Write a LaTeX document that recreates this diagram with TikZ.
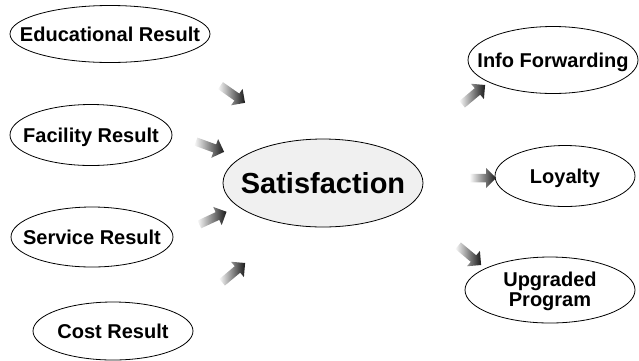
\documentclass[tikz,border=0pt]{standalone}
\usepackage{fontspec}
\setmainfont{Liberation Sans}
\usetikzlibrary{shapes.geometric,shapes.arrows}

% text that does not widen its ellipse
\newcommand{\ovaltext}[1]{\makebox[0pt]{\begin{tabular}{@{}c@{}}#1\end{tabular}}}

\begin{document}
\begin{tikzpicture}[x=1pt, y=-1pt,
  oval/.style={draw, ellipse, line width=0.8pt, inner sep=0pt,
               text height=14.4pt, text depth=0pt,
               font=\fontsize{20}{22}\selectfont\bfseries},
  hint/.style={single arrow, draw=none, inner sep=3.5pt, minimum width=20pt,
               minimum height=30pt, single arrow head extend=5pt,
               left color=gray!5, right color=black!90}]
  \useasboundingbox (0,0) rectangle (639,360);
  % factors
  \node[oval, minimum width=200pt, minimum height=57pt] (edu) at (110,34) {\makebox[0pt]{Educational Result}};
  \node[oval, minimum width=162pt, minimum height=61pt] (fac) at (91,135) {\makebox[0pt]{Facility Result}};
  \node[oval, minimum width=162pt, minimum height=60pt] (srv) at (92,237) {\makebox[0pt]{Service Result}};
  \node[oval, minimum width=160pt, minimum height=58pt] (cost) at (113,331) {\makebox[0pt]{Cost Result}};
  % centre
  \node[oval, fill=gray!12, minimum width=200pt, minimum height=88pt, text height=20.8pt,
        font=\fontsize{29}{32}\selectfont\bfseries] (sat) at (323,183) {\makebox[0pt]{Satisfaction}};
  % outcomes
  \node[oval, minimum width=170pt, minimum height=67pt] (info) at (553,60) {\makebox[0pt]{Info Forwarding}};
  \node[oval, minimum width=140pt, minimum height=61pt] (loy) at (565,176) {\makebox[0pt]{Loyalty}};
  \node[oval, minimum width=170pt, minimum height=66pt] (upg) at (550,290) {\ovaltext{Upgraded\\[-2pt]Program}};
  % arrows
  \node[hint, rotate=-35] (a1) at (231,93) {};
  \node[hint, rotate=-20] (a2) at (208,146) {};
  \node[hint, rotate=25] (a3) at (211,219) {};
  \node[hint, rotate=40] (a4) at (232,274) {};
  \node[hint, rotate=40] (b1) at (472,96) {};
  \node[hint, minimum height=26pt] (b2) at (481,178) {};
  \node[hint, rotate=-40] (b3) at (468,254) {};
\end{tikzpicture}
\end{document}
